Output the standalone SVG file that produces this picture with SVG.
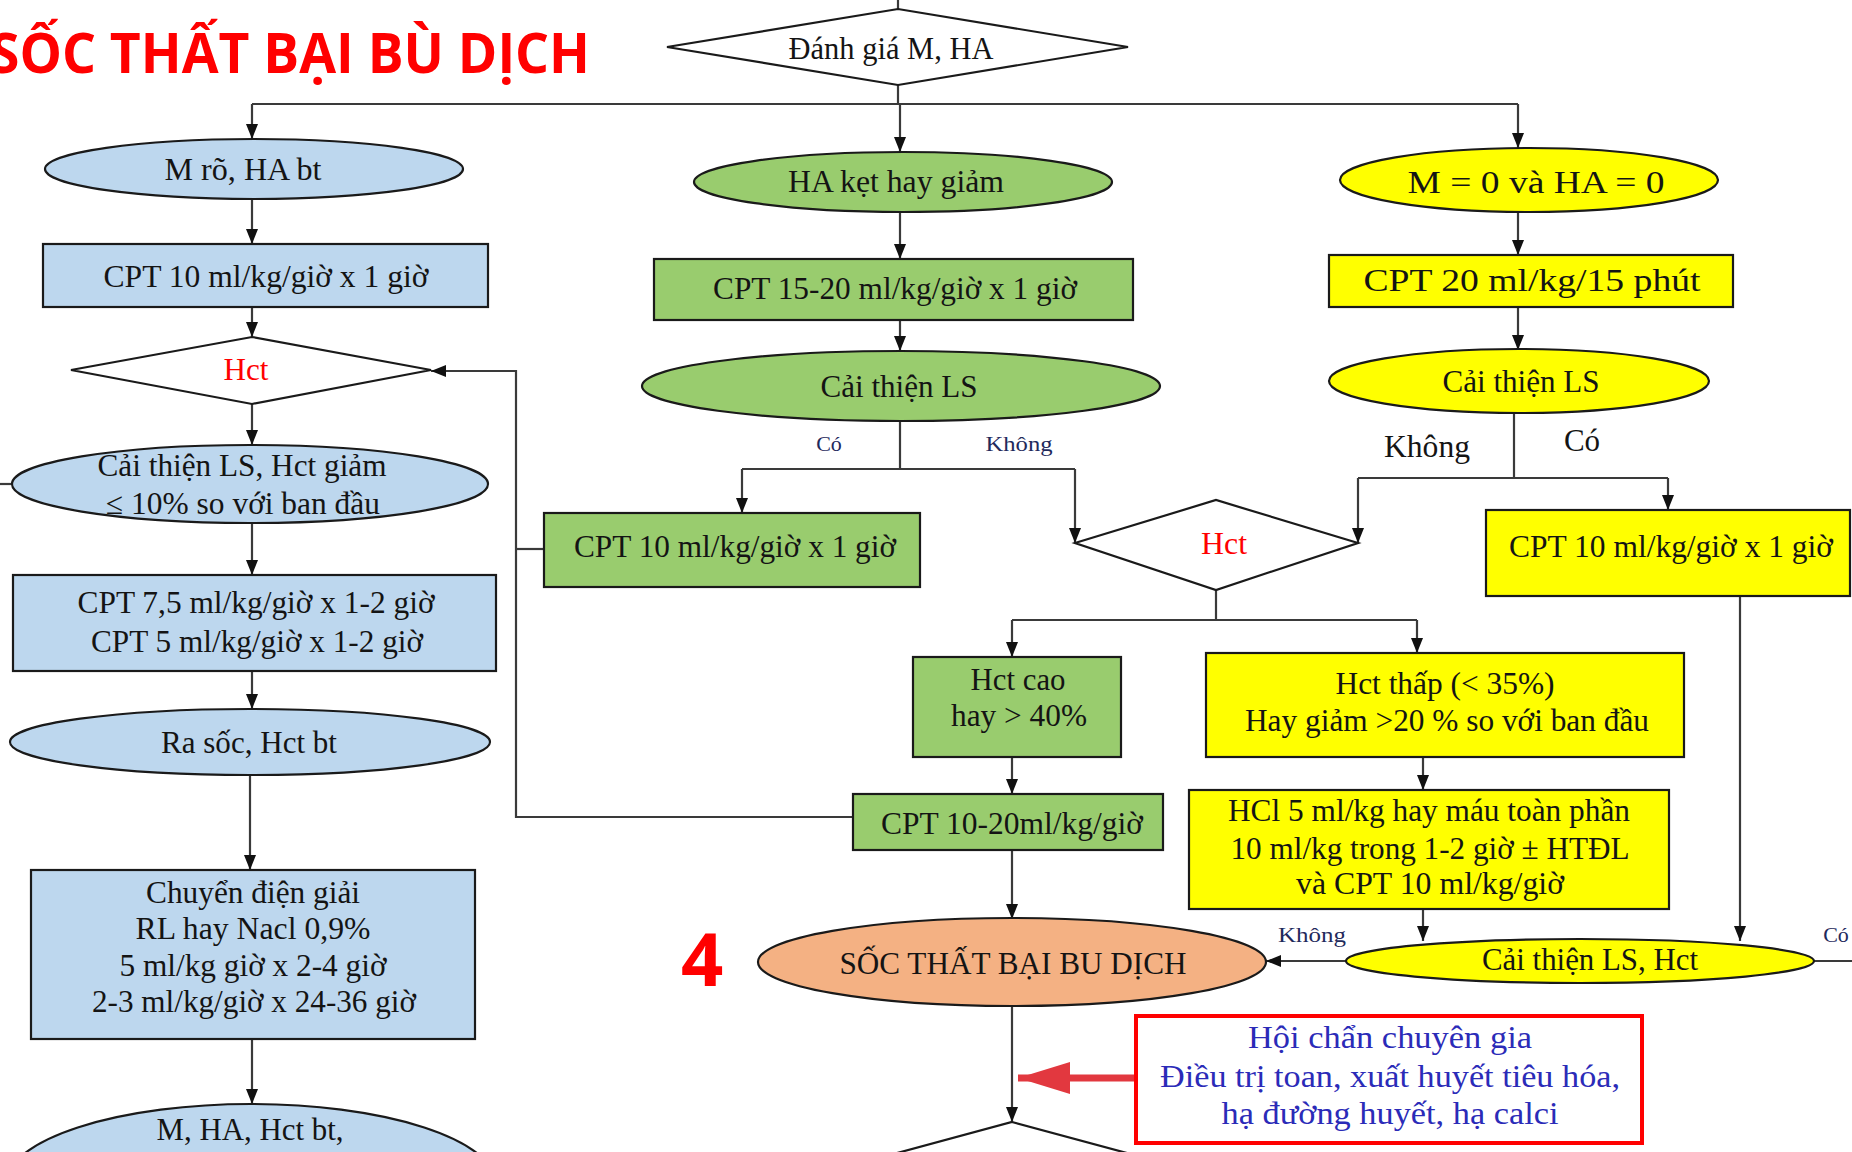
<svg xmlns="http://www.w3.org/2000/svg" width="1852" height="1152" viewBox="0 0 1852 1152">
<style>
.t{font-family:"Liberation Serif","Times New Roman",serif;font-size:31px;fill:#141414;text-anchor:middle}
.s{font-size:22px;fill:#1f2a5c}
.red{fill:#ff0000}
.bl{fill:#2b2bb8}
.shape{stroke:#1a1a1a;stroke-width:2.2}
.blue{fill:#bdd7ee}
.green{fill:#99cc6e}
.yellow{fill:#ffff00}
.orange{fill:#f4b183}
.white{fill:#ffffff}
.c{fill:none;stroke:#3a3a3a;stroke-width:2.2}
</style>
<defs>
<marker id="ah" viewBox="0 0 10 10" refX="10" refY="5" markerWidth="15" markerHeight="12" markerUnits="userSpaceOnUse" orient="auto" preserveAspectRatio="none">
<path d="M0,0 L10,5 L0,10 z" fill="#111"/>
</marker>
<marker id="rah" viewBox="0 0 10 10" refX="10" refY="5" markerWidth="52" markerHeight="32" markerUnits="userSpaceOnUse" orient="auto" preserveAspectRatio="none">
<path d="M0,0 L10,5 L0,10 z" fill="#e2383f"/>
</marker>
</defs>
<rect width="1852" height="1152" fill="#ffffff"/>

<text x="-10" y="73" font-family="'Open Sans','Noto Sans',sans-serif" font-weight="bold" font-size="56" fill="#ff0000" textLength="600" lengthAdjust="spacingAndGlyphs">SỐC THẤT BẠI BÙ DỊCH</text>

<g id="connectors">
<path class="c" d="M898,0 V9"/>
<path class="c" d="M898,85 V104 M252,104 H1518"/>
<path class="c" d="M252,104 V139" marker-end="url(#ah)"/>
<path class="c" d="M900,104 V152" marker-end="url(#ah)"/>
<path class="c" d="M1518,104 V148" marker-end="url(#ah)"/>
<path class="c" d="M252,198 V244" marker-end="url(#ah)"/>
<path class="c" d="M252,307 V337" marker-end="url(#ah)"/>
<path class="c" d="M252,404 V445" marker-end="url(#ah)"/>
<path class="c" d="M0,484 H12"/>
<path class="c" d="M252,523 V575" marker-end="url(#ah)"/>
<path class="c" d="M252,671 V709" marker-end="url(#ah)"/>
<path class="c" d="M250,775 V870" marker-end="url(#ah)"/>
<path class="c" d="M252,1039 V1104" marker-end="url(#ah)"/>
<path class="c" d="M853,817 H516 V371 H431" marker-end="url(#ah)"/>
<path class="c" d="M516,549 H544"/>
<path class="c" d="M900,213 V259" marker-end="url(#ah)"/>
<path class="c" d="M900,320 V351" marker-end="url(#ah)"/>
<path class="c" d="M900,422 V469 M742,469 H1075"/>
<path class="c" d="M742,469 V513" marker-end="url(#ah)"/>
<path class="c" d="M1075,469 V543" marker-end="url(#ah)"/>
<path class="c" d="M1216,590 V620 M1012,620 H1417"/>
<path class="c" d="M1012,620 V657" marker-end="url(#ah)"/>
<path class="c" d="M1417,620 V653" marker-end="url(#ah)"/>
<path class="c" d="M1012,757 V794" marker-end="url(#ah)"/>
<path class="c" d="M1012,850 V919" marker-end="url(#ah)"/>
<path class="c" d="M1012,1006 V1122" marker-end="url(#ah)"/>
<path class="c" d="M1518,213 V255" marker-end="url(#ah)"/>
<path class="c" d="M1518,307 V350" marker-end="url(#ah)"/>
<path class="c" d="M1514,413 V478 M1358,478 H1668"/>
<path class="c" d="M1358,478 V543" marker-end="url(#ah)"/>
<path class="c" d="M1668,478 V510" marker-end="url(#ah)"/>
<path class="c" d="M1740,596 V941" marker-end="url(#ah)"/>
<path class="c" d="M1423,757 V790" marker-end="url(#ah)"/>
<path class="c" d="M1423,909 V941" marker-end="url(#ah)"/>
<path class="c" d="M1346,961 H1266" marker-end="url(#ah)"/>
<path class="c" d="M1814,961 H1852"/>
<path d="M1136,1078 H1018" fill="none" stroke="#e2383f" stroke-width="7" marker-end="url(#rah)"/>
</g>

<g id="n-danhgia">
<polygon class="shape white" points="667,47 898,9 1128,47 898,85"/>
<text class="t" x="891" y="59" font-size="30" textLength="205" lengthAdjust="spacingAndGlyphs">Đánh giá M, HA</text>
</g>

<g id="n-mro">
<ellipse class="shape blue" cx="254" cy="169" rx="209" ry="30"/>
<text class="t" x="243" y="180" textLength="157" lengthAdjust="spacingAndGlyphs">M rõ, HA bt</text>
</g>
<g id="n-cpt10-left">
<rect class="shape blue" x="43" y="244" width="445" height="63"/>
<text class="t" x="266" y="287" textLength="325" lengthAdjust="spacingAndGlyphs">CPT 10 ml/kg/giờ x 1 giờ</text>
</g>
<g id="n-hct-left">
<polygon class="shape white" points="71,370 252,337 431,370 252,404"/>
<text class="t red" x="246" y="380" textLength="45" lengthAdjust="spacingAndGlyphs">Hct</text>
</g>
<g id="n-caithien-left">
<ellipse class="shape blue" cx="250" cy="484" rx="238" ry="39"/>
<text class="t" x="242" y="476" textLength="289" lengthAdjust="spacingAndGlyphs">Cải thiện LS, Hct giảm</text>
<text class="t" x="243" y="514" textLength="274" lengthAdjust="spacingAndGlyphs">≤ 10% so với ban đầu</text>
</g>
<g id="n-cpt75">
<rect class="shape blue" x="13" y="575" width="483" height="96"/>
<text class="t" x="256" y="613" textLength="357" lengthAdjust="spacingAndGlyphs">CPT 7,5 ml/kg/giờ x 1-2 giờ</text>
<text class="t" x="257" y="652" textLength="332" lengthAdjust="spacingAndGlyphs">CPT 5 ml/kg/giờ x 1-2 giờ</text>
</g>
<g id="n-rasoc">
<ellipse class="shape blue" cx="250" cy="742" rx="240" ry="33"/>
<text class="t" x="249" y="753" textLength="176" lengthAdjust="spacingAndGlyphs">Ra sốc, Hct bt</text>
</g>
<g id="n-chuyen">
<rect class="shape blue" x="31" y="870" width="444" height="169"/>
<text class="t" x="253" y="903" textLength="214" lengthAdjust="spacingAndGlyphs">Chuyển điện giải</text>
<text class="t" x="253" y="939" textLength="235" lengthAdjust="spacingAndGlyphs">RL hay Nacl 0,9%</text>
<text class="t" x="253" y="976" textLength="267" lengthAdjust="spacingAndGlyphs">5 ml/kg giờ x 2-4 giờ</text>
<text class="t" x="254" y="1012" textLength="324" lengthAdjust="spacingAndGlyphs">2-3 ml/kg/giờ x 24-36 giờ</text>
</g>
<g id="n-mha-bt">
<ellipse class="shape blue" cx="251" cy="1184" rx="245" ry="80"/>
<text class="t" x="250" y="1140" textLength="187" lengthAdjust="spacingAndGlyphs">M, HA, Hct bt,</text>
</g>

<g id="n-haket">
<ellipse class="shape green" cx="903" cy="182" rx="209" ry="30"/>
<text class="t" x="896" y="192" textLength="216" lengthAdjust="spacingAndGlyphs">HA kẹt hay giảm</text>
</g>
<g id="n-cpt1520">
<rect class="shape green" x="654" y="259" width="479" height="61"/>
<text class="t" x="895" y="299" textLength="364" lengthAdjust="spacingAndGlyphs">CPT 15-20 ml/kg/giờ x 1 giờ</text>
</g>
<g id="n-caithien-mid">
<ellipse class="shape green" cx="901" cy="386" rx="259" ry="35"/>
<text class="t" x="899" y="397" textLength="157" lengthAdjust="spacingAndGlyphs">Cải thiện LS</text>
</g>
<text class="t s" x="829" y="451">Có</text>
<text class="t s" x="1019" y="451" textLength="67" lengthAdjust="spacingAndGlyphs">Không</text>
<g id="n-cpt10-mid">
<rect class="shape green" x="544" y="513" width="376" height="74"/>
<text class="t" x="735" y="557" textLength="322" lengthAdjust="spacingAndGlyphs">CPT 10 ml/kg/giờ x 1 giờ</text>
</g>
<g id="n-hct-mid">
<polygon class="shape white" points="1075,543 1216,500 1358,543 1216,590"/>
<text class="t red" x="1224" y="554" textLength="46" lengthAdjust="spacingAndGlyphs">Hct</text>
</g>
<g id="n-hctcao">
<rect class="shape green" x="913" y="657" width="208" height="100"/>
<text class="t" x="1018" y="690" textLength="95" lengthAdjust="spacingAndGlyphs">Hct cao</text>
<text class="t" x="1019" y="726" textLength="136" lengthAdjust="spacingAndGlyphs">hay &gt; 40%</text>
</g>
<g id="n-cpt1020">
<rect class="shape green" x="853" y="794" width="310" height="56"/>
<text class="t" x="1012" y="834" textLength="262" lengthAdjust="spacingAndGlyphs">CPT 10-20ml/kg/giờ</text>
</g>
<g id="n-socthatbai">
<ellipse class="shape orange" cx="1012" cy="962" rx="254" ry="44"/>
<text class="t" x="1013" y="974" textLength="347" lengthAdjust="spacingAndGlyphs">SỐC THẤT BẠI BU DỊCH</text>
</g>
<text x="681" y="986" font-family="'Open Sans','Noto Sans',sans-serif" font-weight="bold" font-size="74" fill="#ff0000">4</text>
<g id="n-bottom-diamond">
<polygon class="shape white" points="1012,1122 1312,1203 1012,1284 712,1203"/>
</g>
<g id="n-hoichan">
<rect x="1136" y="1016" width="506" height="127" fill="#ffffff" stroke="#ff0000" stroke-width="4"/>
<text class="t bl" x="1390" y="1048" textLength="284" lengthAdjust="spacingAndGlyphs">Hội chẩn chuyên gia</text>
<text class="t bl" x="1390" y="1087" textLength="460" lengthAdjust="spacingAndGlyphs">Điều trị toan, xuất huyết tiêu hóa,</text>
<text class="t bl" x="1390" y="1124" textLength="337" lengthAdjust="spacingAndGlyphs">hạ đường huyết, hạ calci</text>
</g>

<g id="n-m0">
<ellipse class="shape yellow" cx="1529" cy="180" rx="189" ry="32"/>
<text class="t" x="1536" y="193" font-size="35" textLength="257" lengthAdjust="spacingAndGlyphs">M = 0 và HA = 0</text>
</g>
<g id="n-cpt20">
<rect class="shape yellow" x="1329" y="255" width="404" height="52"/>
<text class="t" x="1532" y="291" font-size="34" textLength="337" lengthAdjust="spacingAndGlyphs">CPT 20 ml/kg/15 phút</text>
</g>
<g id="n-caithien-right">
<ellipse class="shape yellow" cx="1519" cy="381" rx="190" ry="32"/>
<text class="t" x="1521" y="392" textLength="157" lengthAdjust="spacingAndGlyphs">Cải thiện LS</text>
</g>
<text class="t" x="1427" y="457" font-size="29" textLength="86" lengthAdjust="spacingAndGlyphs">Không</text>
<text class="t" x="1582" y="451" font-size="29">Có</text>
<g id="n-cpt10-right">
<rect class="shape yellow" x="1486" y="510" width="364" height="86"/>
<text class="t" x="1671" y="557" textLength="324" lengthAdjust="spacingAndGlyphs">CPT 10 ml/kg/giờ x 1 giờ</text>
</g>
<g id="n-hctthap">
<rect class="shape yellow" x="1206" y="653" width="478" height="104"/>
<text class="t" x="1445" y="694" textLength="219" lengthAdjust="spacingAndGlyphs">Hct thấp (&lt; 35%)</text>
<text class="t" x="1447" y="731" textLength="404" lengthAdjust="spacingAndGlyphs">Hay giảm &gt;20 % so với ban đầu</text>
</g>
<g id="n-hcl">
<rect class="shape yellow" x="1189" y="790" width="480" height="119"/>
<text class="t" x="1429" y="821" textLength="402" lengthAdjust="spacingAndGlyphs">HCl 5 ml/kg hay máu toàn phần</text>
<text class="t" x="1430" y="859" textLength="399" lengthAdjust="spacingAndGlyphs">10 ml/kg trong 1-2 giờ ± HTĐL</text>
<text class="t" x="1430" y="894" textLength="268" lengthAdjust="spacingAndGlyphs">và CPT 10 ml/kg/giờ</text>
</g>
<g id="n-caithien-hct">
<ellipse class="shape yellow" cx="1580" cy="961" rx="234" ry="22"/>
<text class="t" x="1590" y="970" textLength="216" lengthAdjust="spacingAndGlyphs">Cải thiện LS, Hct</text>
</g>
<text class="t s" x="1312" y="942" textLength="68" lengthAdjust="spacingAndGlyphs">Không</text>
<text class="t s" x="1836" y="942">Có</text>
</svg>
